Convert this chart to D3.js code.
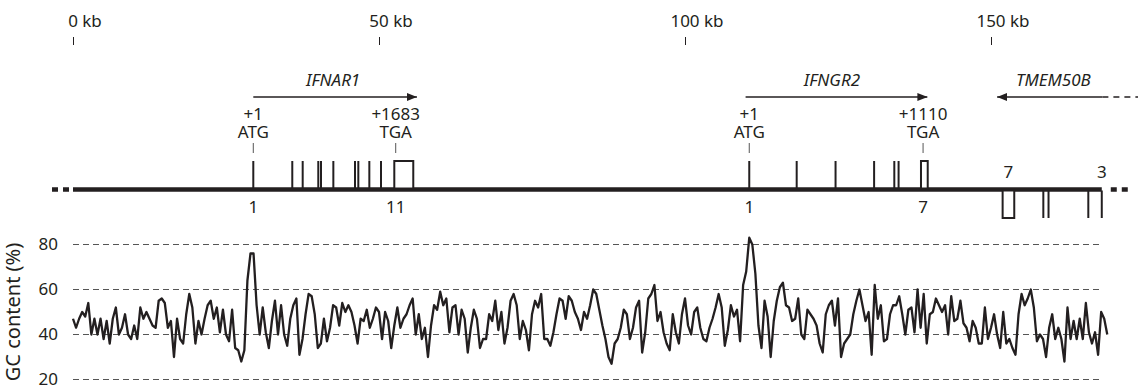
<!DOCTYPE html>
<html>
<head>
<meta charset="utf-8">
<script src="https://cdn.jsdelivr.net/npm/d3@7"></script>
<style>
  body { margin: 0; background: #fff; }
  svg text { font-family: "Noto Sans", sans-serif; fill: #231f20; }
</style>
</head>
<body>
<div id="chart"></div>
<script>
// ---- data ----
const axisTicksKb = [0, 50, 100, 150];
const gcTicks = [20, 40, 60, 80];
const gcStepKb = 0.5;
// GC content (%) in 0.5 kb windows
const gcContent = [
  47,43,47,50,48,54,40,47,40,47, 38,46,36,47,52,40,43,49,40,38,
  44,38,52,47,50,47,44,43,55,56, 54,43,46,30,47,38,36,49,58,52,
  36,46,40,47,53,55,47,52,41,51, 40,37,51,34,33,28,33,64,76,76,
  53,40,52,41,34,46,55,40,
  53,40,35,47,53,56,31,38,49,58, 57,49,34,36,47,37,43,53,52,44,
  54,50,53,50,44,36,47,46,51,43, 47,52,50,38,50,46,34,44,52,43,
  47,49,53,56,40,49,38,43,30,44, 53,51,59,53,56,41,52,53,40,51,
  47,32,43,51,47,34,38,
  38,49,46,55,42,50,36,43,55,58, 53,38,46,42,33,49,55,52,58,38,
  38,35,41,49,56,55,47,57,55,50, 47,42,50,47,53,60,58,51,44,38,
  30,27,36,38,43,51,49,38,43,52, 55,32,41,56,58,62,46,50,41,36,
  33,49,41,36,49,56,44,
  40,50,52,43,38,37,43,47,52,58, 52,35,42,53,48,51,37,62,68,83,
  80,67,44,34,55,48,30,46,55,61, 63,53,52,46,47,56,40,38,51,49,
  47,44,36,32,49,53,55,44,56,30, 36,38,40,49,55,60,53,46,50,31,
  62,47,53,37,38,49,53,
  53,57,49,40,51,52,41,60,43,58, 36,49,50,56,53,50,53,40,57,46,
  47,55,45,43,37,46,43,36,36,52, 38,43,49,40,34,50,36,38,34,31,
  49,58,53,56,60,52,37,40,38,30, 43,49,38,43,38,28,52,38,46,38,
  47,38,54,41,36,41,31,50,47,40
];

const chromosomeKb = [0, 168.1];
const geneNames = ['IFNAR1', 'IFNGR2', 'TMEM50B'];
const geneArrowKb = [[29.46, 56.2], [109.9, 139.6], [168.2, 151.0]];
const geneLabelKb = [42.5, 124.0, 160.2];

// exons as [start, end] in kb; above the line = forward strand
const exonsAbove = [
  [29.46, 29.46], [35.83, 35.83], [37.53, 37.53], [40.08, 40.08], [40.52, 40.52],
  [42.54, 42.54], [46.08, 46.08], [46.62, 46.62], [48.42, 48.42], [50.33, 50.33],
  [52.5, 55.6],
  [110.5, 110.5], [118.25, 118.25], [124.6, 124.6], [130.9, 130.9], [134.2, 134.2],
  [134.9, 134.9], [138.56, 139.66]
];
const exonsBelow = [[151.9, 153.8], [158.55, 158.55], [159.4, 159.4], [165.9, 165.9], [168.1, 168.1]];

const codonKb = [29.46, 52.73, 110.5, 138.9];
const codonPos = ['+1', '+1683', '+1', '+1110'];
const codonName = ['ATG', 'TGA', 'ATG', 'TGA'];

const exonNumKb = [29.46, 52.73, 110.5, 138.9, 152.85, 168.1];
const exonNum = ['1', '11', '1', '7', '7', '3'];
const exonNumAbove = [false, false, false, false, true, true];

// ---- layout ----
const width = 1138, height = 389;
const ink = '#231f20';
const lineY = 189.5;

const x = d3.scaleLinear().domain([0, 150]).range([73, 991]);
const y = d3.scaleLinear().domain([20, 80]).range([379.5, 244.5]);

const svg = d3.select('#chart').append('svg')
  .attr('width', width)
  .attr('height', height);

svg.append('defs').append('marker')
  .attr('id', 'head')
  .attr('viewBox', '0 0 10 8')
  .attr('refX', 10).attr('refY', 4)
  .attr('markerWidth', 10).attr('markerHeight', 8)
  .attr('markerUnits', 'userSpaceOnUse')
  .attr('orient', 'auto')
  .append('path').attr('d', 'M0,0 L10,4 L0,8 Z').attr('fill', ink);

// top kb axis
const topAxis = svg.append('g')
  .attr('transform', 'translate(0,45)')
  .call(d3.axisTop(x).tickValues(axisTicksKb).tickSize(8).tickFormat(''));
topAxis.select('.domain').remove();
topAxis.selectAll('line').attr('stroke', ink).attr('stroke-width', 1);

const topLabels = svg.append('g').selectAll('text')
  .data(axisTicksKb)
  .join('text')
  .attr('y', 26.5)
  .attr('x', d => x(d))
  .style('font-size', '17px');
topLabels.append('tspan').text(d => d);
topLabels.append('tspan').text(' kb');
topLabels.each(function(d) {
  const w = this.getSubStringLength(0, String(d).length);
  d3.select(this).attr('x', x(d) - w / 2);
});

// gene arrows
const genes = svg.append('g');
genes.selectAll('line')
  .data(geneArrowKb)
  .join('line')
  .attr('x1', d => x(d[0])).attr('x2', d => x(d[1]))
  .attr('y1', 97).attr('y2', 97)
  .attr('stroke', ink).attr('stroke-width', 1.3)
  .attr('marker-end', 'url(#head)');
genes.append('line')
  .attr('x1', x(geneArrowKb[2][0])).attr('x2', width)
  .attr('y1', 97).attr('y2', 97)
  .attr('stroke', ink).attr('stroke-width', 1.3)
  .attr('stroke-dasharray', '6,5');
genes.selectAll('text')
  .data(geneNames)
  .join('text')
  .attr('x', (d, i) => x(geneLabelKb[i]))
  .attr('y', 86)
  .attr('text-anchor', 'middle')
  .style('font-size', '17px')
  .style('font-style', 'italic')
  .text(d => d);

// codon annotations
const codons = svg.append('g').selectAll('g')
  .data(codonKb)
  .join('g')
  .attr('transform', d => `translate(${x(d)},0)`);
codons.append('text')
  .attr('y', 120).attr('text-anchor', 'middle')
  .style('font-size', '17px')
  .text((d, i) => codonPos[i]);
codons.append('text')
  .attr('y', 138).attr('text-anchor', 'middle')
  .style('font-size', '17px')
  .text((d, i) => codonName[i]);
codons.append('line')
  .attr('y1', 143).attr('y2', 153)
  .attr('stroke', '#555').attr('stroke-width', 1);

// chromosome line
svg.append('line')
  .attr('x1', x(chromosomeKb[0])).attr('x2', x(chromosomeKb[1]))
  .attr('y1', lineY).attr('y2', lineY)
  .attr('stroke', ink).attr('stroke-width', 4.5);
svg.append('line')
  .attr('x1', x(chromosomeKb[0]) - 21).attr('x2', x(chromosomeKb[0]) - 4)
  .attr('y1', lineY).attr('y2', lineY)
  .attr('stroke', ink).attr('stroke-width', 4.5)
  .attr('stroke-dasharray', '6,5');
svg.append('line')
  .attr('x1', x(chromosomeKb[1]) + 9).attr('x2', x(chromosomeKb[1]) + 26)
  .attr('y1', lineY).attr('y2', lineY)
  .attr('stroke', ink).attr('stroke-width', 4.5)
  .attr('stroke-dasharray', '6,5');

// exons
function drawExons(data, y0, y1) {
  const g = svg.append('g');
  g.selectAll('line')
    .data(data.filter(d => d[1] - d[0] < 0.5))
    .join('line')
    .attr('x1', d => x(d[0])).attr('x2', d => x(d[0]))
    .attr('y1', y0).attr('y2', y1)
    .attr('stroke', ink).attr('stroke-width', 2);
  g.selectAll('rect')
    .data(data.filter(d => d[1] - d[0] >= 0.5))
    .join('rect')
    .attr('x', d => x(d[0])).attr('width', d => x(d[1]) - x(d[0]))
    .attr('y', Math.min(y0, y1)).attr('height', Math.abs(y1 - y0))
    .attr('fill', '#fff').attr('stroke', ink).attr('stroke-width', 2);
}
drawExons(exonsAbove, 161, lineY - 1);
drawExons(exonsBelow, lineY + 1, 218);

// exon numbers
svg.append('g').selectAll('text')
  .data(exonNumKb)
  .join('text')
  .attr('x', d => x(d))
  .attr('y', (d, i) => exonNumAbove[i] ? 178 : 213)
  .attr('text-anchor', 'middle')
  .style('font-size', '17px')
  .text((d, i) => exonNum[i]);

// GC content panel
svg.append('g').selectAll('line')
  .data(gcTicks)
  .join('line')
  .attr('x1', x(0)).attr('x2', x(168.3))
  .attr('y1', d => y(d)).attr('y2', d => y(d))
  .attr('stroke', '#555').attr('stroke-width', 1.2)
  .attr('stroke-dasharray', '6,4');

const yAxis = svg.append('g')
  .attr('transform', `translate(${x(0)},0)`)
  .call(d3.axisLeft(y).tickValues(gcTicks).tickSize(0).tickPadding(15));
yAxis.select('.domain').remove();
yAxis.selectAll('text')
  .style('font-size', '17px')
  .style('font-family', '"Noto Sans", sans-serif')
  .attr('fill', ink);

svg.append('text')
  .attr('transform', `translate(20,${y(50)}) rotate(-90)`)
  .attr('text-anchor', 'middle')
  .style('font-size', '20px')
  .text('GC content (%)');

const gcLine = d3.line()
  .x((d, i) => x(i * gcStepKb))
  .y(d => y(d));

svg.append('path')
  .datum(gcContent)
  .attr('d', gcLine)
  .attr('fill', 'none')
  .attr('stroke', ink)
  .attr('stroke-width', 2.3)
  .attr('stroke-linejoin', 'round');
</script>
</body>
</html>
